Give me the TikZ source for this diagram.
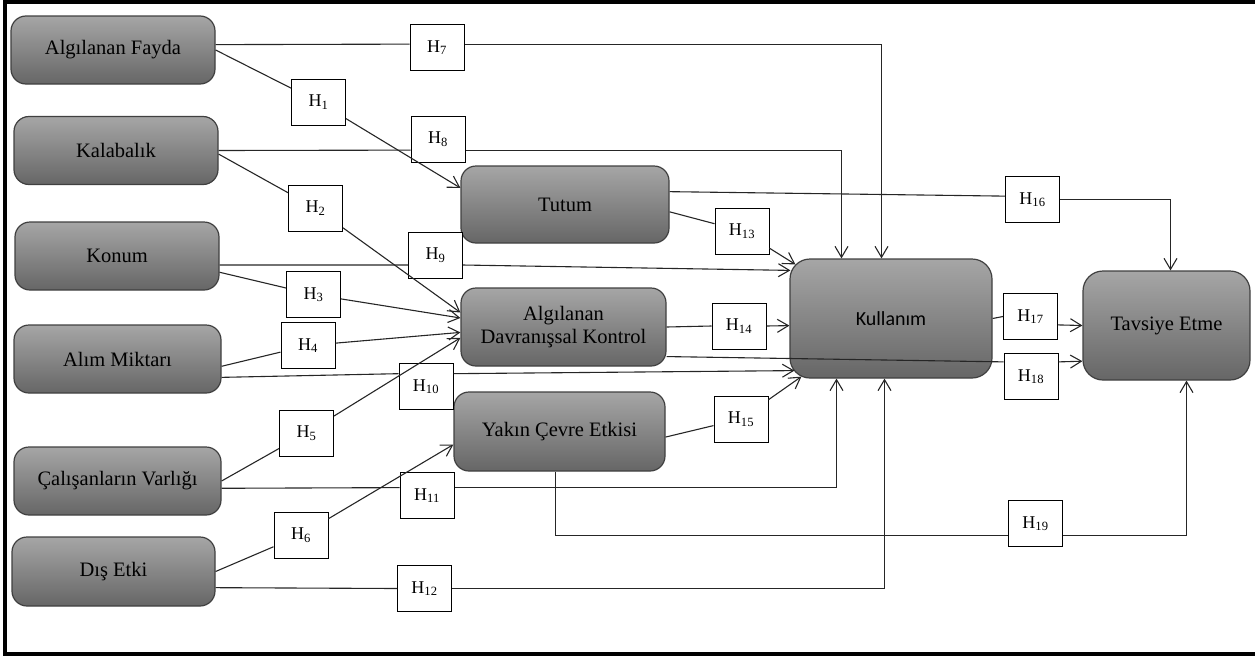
\documentclass[tikz,border=0pt]{standalone}
\usepackage{fontspec}
\setmainfont{Liberation Serif}
\newfontfamily\calibrifont{Carlito}
\usetikzlibrary{arrows.meta, positioning, calc}

\begin{document}
\begin{tikzpicture}[
    x=1pt, y=-1pt,
    factor/.style={rectangle, rounded corners=15, draw=black!75, line width=1.2, top color=black!35, bottom color=black!60, minimum width=204, minimum height=68, align=center, font=\fontsize{20.5}{23}\selectfont},
    hyp/.style={rectangle, draw, fill=white, line width=1, minimum width=54, minimum height=46, inner sep=0, font=\fontsize{18}{20}\selectfont},
    link/.style={line width=1.1, draw=black!85},
    arrow/.style={link, -{Straight Barb[length=11pt, width=13pt]}}
]
\useasboundingbox (0,0) rectangle (1255,656);

\node[factor] (fayda) at (113,50) {Algılanan Fayda};
\node[factor] (kalabalik) at (116,150.5) {Kalabalık};
\node[factor] (konum) at (117,256) {Konum};
\node[factor, minimum width=207] (alim) at (117.5,359) {Alım Miktarı};
\node[factor, minimum width=207] (calisan) at (117.5,481) {Çalışanların Varlığı};
\node[factor, minimum width=203, minimum height=69] (dis) at (113.5,571.5) {Dış Etki};

\node[factor, minimum width=208, minimum height=77] (tutum) at (565,204.5) {Tutum};
\node[factor, minimum width=205, minimum height=78] (adk) at (563.5,327) {Algılanan\\Davranışsal Kontrol};
\node[factor, minimum width=211, minimum height=79] (yakin) at (559.5,431.5) {Yakın Çevre Etkisi};

\node[factor, minimum width=202, minimum height=119, rounded corners=20, font=\calibrifont\fontsize{20}{23}\selectfont] (kullanim) at (891,318.5) {Kullanım};
\node[factor, minimum width=167, minimum height=109, rounded corners=20] (tavsiye) at (1166.5,325.5) {Tavsiye Etme};

\node[hyp] (h1) at (318.5,102) {H\textsubscript{1}};
\node[hyp] (h2) at (315.5,208) {H\textsubscript{2}};
\node[hyp] (h3) at (313.5,294.5) {H\textsubscript{3}};
\node[hyp] (h4) at (308,345.5) {H\textsubscript{4}};
\node[hyp] (h5) at (306.5,433) {H\textsubscript{5}};
\node[hyp] (h6) at (301,535) {H\textsubscript{6}};
\node[hyp] (h7) at (437,47.5) {H\textsubscript{7}};
\node[hyp] (h8) at (438,139) {H\textsubscript{8}};
\node[hyp] (h9) at (435.5,255) {H\textsubscript{9}};
\node[hyp] (h10) at (426,386.5) {H\textsubscript{10}};
\node[hyp] (h11) at (427,495.5) {H\textsubscript{11}};
\node[hyp] (h12) at (424.5,588.5) {H\textsubscript{12}};
\node[hyp] (h13) at (742,231) {H\textsubscript{13}};
\node[hyp] (h14) at (739,326) {H\textsubscript{14}};
\node[hyp] (h15) at (741,419) {H\textsubscript{15}};
\node[hyp] (h16) at (1032.5,199.5) {H\textsubscript{16}};
\node[hyp] (h17) at (1030.5,316.5) {H\textsubscript{17}};
\node[hyp] (h18) at (1031,376.5) {H\textsubscript{18}};
\node[hyp] (h19) at (1035.5,523.5) {H\textsubscript{19}};

\draw[link] (fayda.east) -- (h1);
\draw[arrow] (h1) -- (tutum.171);
\draw[link] (fayda.3) -- (h7.173);
\draw[arrow] (h7.7) -| ([xshift=-9.5]kullanim.north);

\draw[link] (kalabalik.east) -- (h8.202);
\draw[arrow] (h8.-22) -| ([xshift=-49.5]kullanim.north);
\draw[link] (kalabalik.-2) -- (h2);
\draw[arrow] (h2) -- (adk.172);

\draw[link] (konum.-5) -- (h9.200);
\draw[arrow] (h9.-20) -- ([xshift=1,yshift=-12]kullanim.north west);
\draw[link] (konum.-9) -- (h3);
\draw[arrow] (h3) -- (adk.175);

\draw[link] (alim.-4) -- (h4);
\draw[arrow] (h4) -- (adk.183);
\draw[link] (alim.-10) -- (h10.155);
\draw[arrow] (h10.25) -- ([xshift=5,yshift=8]kullanim.south west);

\draw[link] (calisan.east) -- (h5);
\draw[arrow] (h5) -- (adk.186);
\draw[link] (calisan.-4) -- (h11.164);
\draw[arrow] (h11.16) -| ([xshift=-54.5]kullanim.south);

\draw[link] (dis.east) -- (h6);
\draw[arrow] (h6) -- (yakin.187);
\draw[link] (dis.-9) -- (h12.west);
\draw[arrow] (h12.east) -| ([xshift=-6.5]kullanim.south);

\draw[link] (tutum.-4) -- (h13);
\draw[arrow] (h13) -- ([xshift=6,yshift=-6]kullanim.north west);
\draw[link] (tutum.7) -- (h16.173);
\draw[arrow] (h16.east) -| ([xshift=4]tavsiye.north);

\draw[link] (adk.east) -- (h14.west);
\draw[arrow] (h14.east) -- (kullanim.184);
\draw[link] (adk.-16) -- (h18.152);
\draw[arrow] (h18.28) -- (tavsiye.203);

\draw[link] (yakin.-3) -- (h15);
\draw[arrow] (h15) -- ([xshift=12,yshift=2]kullanim.south west);
\draw[link] ([xshift=-4]yakin.south) |- (h19.203);
\draw[arrow] (h19.-23) -| ([xshift=20]tavsiye.south);

\draw[link] (kullanim.east) -- (h17.west);
\draw[arrow] (h17.-17) -- (tavsiye.west);

\draw[line width=4] (1255,2) -- (5,2) -- (5,654) -- (1255,654);
\end{tikzpicture}
\end{document}
